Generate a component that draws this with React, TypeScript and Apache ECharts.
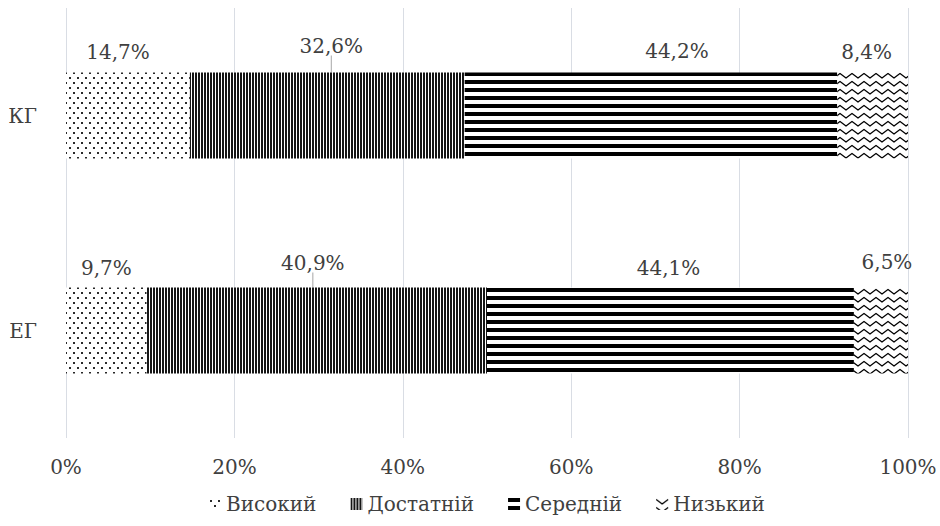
import React, { useEffect, useRef } from 'react';
import * as echarts from 'echarts';

const categories = ['КГ', 'ЕГ'];
const seriesNames = ['Високий', 'Достатній', 'Середній', 'Низький'];
const high = [14.7, 9.7];
const sufficient = [32.6, 40.9];
const medium = [44.2, 44.1];
const low = [8.4, 6.5];
const xTickStep = 20;

const FONT = 'DejaVu Serif';
const FS = 20;
const TEXT = '#404040';

// per-label nudges [dx, dy] (styling only) — [series][category]
const labelNudges = [
  [[-10, -11], [0, -10]],
  [[4, -17], [-4, -15]],
  [[26, -12], [-2, -10]],
  [[-6, -11], [6, -16]],
];
const leaderLines = [
  [false, false],
  [true, true],
  [false, false],
  [false, false],
];

function makeTile(w: number, h: number, draw: (ctx: CanvasRenderingContext2D) => void) {
  const c = document.createElement('canvas');
  c.width = w;
  c.height = h;
  const ctx = c.getContext('2d')!;
  ctx.fillStyle = '#ffffff';
  ctx.fillRect(0, 0, w, h);
  draw(ctx);
  return { image: c.toDataURL(), repeat: 'repeat', imageWidth: w, imageHeight: h } as any;
}

function buildPatterns() {
  const dots = makeTile(8, 10, (ctx) => {
    ctx.fillStyle = '#2a2a2a';
    ctx.fillRect(1, 2, 2, 2);
    ctx.fillRect(5, 7, 2, 2);
  });
  const vlines = makeTile(3, 4, (ctx) => {
    ctx.fillStyle = '#151515';
    ctx.fillRect(0, 0, 2, 4);
  });
  const hlines = makeTile(8, 8, (ctx) => {
    ctx.fillStyle = '#000000';
    ctx.fillRect(0, 0, 8, 4);
  });
  const waves = makeTile(12, 8, (ctx) => {
    ctx.strokeStyle = '#000000';
    ctx.lineWidth = 1.3;
    ctx.lineJoin = 'round';
    ctx.beginPath();
    ctx.moveTo(-6, 6);
    ctx.lineTo(0, 1.5);
    ctx.lineTo(6, 6);
    ctx.lineTo(12, 1.5);
    ctx.lineTo(18, 6);
    ctx.stroke();
  });
  return [dots, vlines, hlines, waves];
}

const fmt = (v: number) => v.toFixed(1).replace('.', ',') + '%';

export default function App() {
  const ref = useRef<HTMLDivElement>(null);
  useEffect(() => {
    document.body.style.margin = '0';
    if (!ref.current) return;
    const chart = echarts.init(ref.current, undefined, { renderer: 'svg' });
    const raw = [high, sufficient, medium, low];
    const totals = categories.map((_, i) => raw.reduce((s, arr) => s + arr[i], 0));
    const patterns = buildPatterns();

    const series = raw.map((arr, si) => ({
      name: seriesNames[si],
      type: 'bar',
      stack: 'total',
      barWidth: '40%',
      itemStyle: { color: patterns[si] },
      labelLayout: (p: any) => ({
        dx: labelNudges[si][p.dataIndex][0],
        dy: labelNudges[si][p.dataIndex][1],
      }),
      data: arr.map((v, ci) => ({
        value: (v / totals[ci]) * 100,
        label: { formatter: () => fmt(v) },
        labelLine: { show: leaderLines[si][ci], lineStyle: { color: '#a6a6a6', width: 1 } },
      })),
      label: {
        show: true,
        position: 'top',
        distance: 0,
        fontFamily: FONT,
        fontSize: FS,
        color: TEXT,
      },
    }));

    chart.setOption({
      animation: false,
      backgroundColor: '#ffffff',
      textStyle: { fontFamily: FONT },
      grid: { left: 66, right: 32, top: 8, bottom: 88, containLabel: false },
      xAxis: {
        type: 'value',
        min: 0,
        max: 100,
        interval: xTickStep,
        axisLine: { show: false },
        axisTick: { show: false },
        splitLine: { show: true, lineStyle: { color: '#d9dde4', width: 1 } },
        axisLabel: {
          formatter: '{value}%',
          fontFamily: FONT,
          fontSize: FS,
          color: TEXT,
          margin: 19,
        },
      },
      yAxis: {
        type: 'category',
        data: categories,
        inverse: true,
        axisLine: { show: false },
        axisTick: { show: false },
        splitLine: { show: false },
        axisLabel: { fontFamily: FONT, fontSize: FS, color: TEXT, margin: 29 },
      },
      legend: {
        bottom: 7,
        left: 204,
        icon: 'rect',
        itemWidth: 12,
        itemHeight: 12,
        itemGap: 34,
        textStyle: { fontFamily: FONT, fontSize: FS, color: TEXT },
        data: seriesNames,
      },
      series,
    } as any);
    return () => chart.dispose();
  }, []);
  return <div ref={ref} style={{ width: 940, height: 526 }} />;
}
